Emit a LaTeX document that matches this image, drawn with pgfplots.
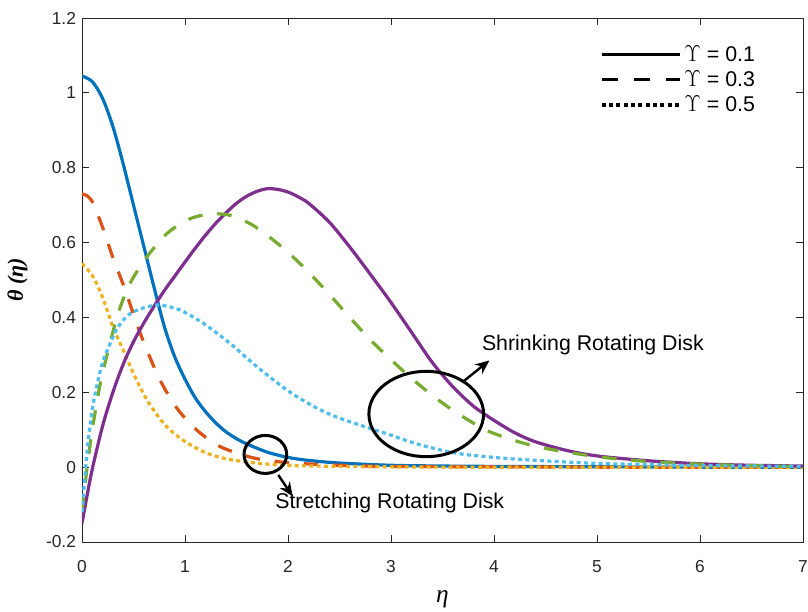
\documentclass[border=0pt]{standalone}
\usepackage{pgfplots}
\pgfplotsset{compat=1.18}
\usepackage{fontspec}
\setmainfont{Liberation Sans}
\newfontfamily\lserif{Liberation Serif}
\usetikzlibrary{arrows.meta,calc}
\definecolor{mblue}{rgb}{0,0.447,0.741}
\definecolor{morange}{rgb}{0.85,0.325,0.098}
\definecolor{myellow}{rgb}{0.929,0.694,0.125}
\definecolor{mpurple}{rgb}{0.494,0.184,0.556}
\definecolor{mgreen}{rgb}{0.466,0.674,0.188}
\definecolor{mlblue}{rgb}{0.301,0.745,0.933}
\begin{document}
\begin{tikzpicture}
\begin{axis}[
  width=540.75pt, height=393pt, scale only axis,
  xmin=0, xmax=7, ymin=-0.2, ymax=1.2,
  xtick={0,1,2,3,4,5,6,7},
  xticklabels={0,1,2,3,4,5,6,7},
  ytick={-0.2,0,0.2,0.4,0.6,0.8,1,1.2},
  yticklabels={-0.2,0,0.2,0.4,0.6,0.8,1,1.2},
  tick align=inside,
  major tick length=5.5pt,
  axis line style={line width=0.6pt, black!85},
  tick style={line width=0.6pt, black!85},
  ticklabel style={font=\fontsize{13}{15}\selectfont, text=black!85},
  xticklabel style={yshift=-10.5pt},
  yticklabel style={xshift=-1pt},
  xlabel={η},
  ylabel={θ (η)},
  xlabel style={font=\lserif\itshape\fontsize{19}{21}\selectfont, at={(axis description cs:0.5,-0.11)}, anchor=center},
  ylabel style={font=\lserif\bfseries\itshape\fontsize{16.5}{19}\selectfont, at={(axis description cs:-0.0895,0.5)}, anchor=center},
  legend cell align=left,
  legend style={draw=none, fill=none, inner sep=0pt, at={(axis description cs:0.718,0.953)}, anchor=north west,
    font=\fontsize{16}{18}\selectfont, row sep=1.6pt},
  legend image post style={xscale=3.45},
]
\addlegendimage{black, line width=2.5pt}
\addlegendentry{$\Upsilon$ = 0.1}
\addlegendimage{black, line width=2.5pt, dash pattern=on 12pt off 12pt}
\addlegendentry{$\Upsilon$ = 0.3}
\addlegendimage{black, line width=2.5pt, dash pattern=on 3pt off 2.5pt}
\addlegendentry{$\Upsilon$ = 0.5}
\addplot[forget plot, mblue, line width=2.4pt, smooth] coordinates {
(0,1.045) (0.1,1.03) (0.2,0.985) (0.3,0.91) (0.4,0.81) (0.5,0.70) (0.6,0.59) (0.7,0.48) (0.8,0.375) (0.9,0.295) (1.0,0.235) (1.1,0.185) (1.2,0.148) (1.3,0.118) (1.4,0.094) (1.5,0.076) (1.6,0.062) (1.8,0.040) (2.0,0.026) (2.2,0.018) (2.5,0.011) (3,0.005) (3.5,0.003) (4,0.002) (5,0.001) (6,0.0) (7,0.0)};
\addplot[forget plot, morange, line width=2.4pt, dash pattern=on 11pt off 11pt, smooth] coordinates {
(0,0.73) (0.05,0.725) (0.11,0.704) (0.21,0.633) (0.30,0.56) (0.42,0.473) (0.53,0.384) (0.63,0.313) (0.757,0.233) (0.92,0.158) (1.11,0.10) (1.34,0.055) (1.66,0.025) (2.0,0.012) (2.5,0.005) (3,0.002) (4,0.001) (5,0.0) (7,0.0)};
\addplot[forget plot, myellow, line width=2.4pt, dash pattern=on 3pt off 2.5pt, smooth] coordinates {
(0,0.544) (0.11,0.508) (0.21,0.446) (0.30,0.375) (0.40,0.313) (0.50,0.25) (0.63,0.18) (0.79,0.118) (0.95,0.078) (1.18,0.041) (1.44,0.02) (1.9,0.006) (2.5,0.002) (3.5,0.0) (5,0.0) (7,0.0)};
\addplot[forget plot, mpurple, line width=2.4pt, smooth] coordinates {
(0,-0.15) (0.05,-0.075) (0.1,-0.005) (0.2,0.11) (0.3,0.2) (0.4,0.275) (0.5,0.335) (0.6,0.385) (0.7,0.43) (0.8,0.472) (0.9,0.51) (1.0,0.548) (1.1,0.585) (1.2,0.62) (1.3,0.652) (1.4,0.68) (1.5,0.705) (1.6,0.724) (1.7,0.737) (1.8,0.744) (1.9,0.742) (2.0,0.735) (2.1,0.722) (2.2,0.705) (2.4,0.655) (2.6,0.588) (2.8,0.515) (3.0,0.44) (3.2,0.36) (3.4,0.28) (3.6,0.215) (3.8,0.163) (4.0,0.125) (4.2,0.092) (4.4,0.068) (4.7,0.045) (5.0,0.03) (5.5,0.017) (6,0.009) (6.5,0.005) (7,0.003)};
\addplot[forget plot, mgreen, line width=2.4pt, dash pattern=on 11pt off 11pt, smooth] coordinates {
(0,-0.12) (0.05,0.0) (0.1,0.1) (0.175,0.22) (0.255,0.313) (0.35,0.41) (0.45,0.482) (0.55,0.53) (0.63,0.562) (0.79,0.615) (0.9,0.64) (1.05,0.664) (1.2,0.675) (1.3,0.677) (1.45,0.672) (1.66,0.646) (1.92,0.593) (2.15,0.535) (2.4,0.462) (2.6,0.40) (2.8,0.34) (3.0,0.287) (3.2,0.237) (3.4,0.192) (3.6,0.152) (3.86,0.108) (4.0,0.09) (4.25,0.067) (4.5,0.05) (5.0,0.028) (5.5,0.015) (6.0,0.008) (6.5,0.004) (7,0.002)};
\addplot[forget plot, mlblue, line width=2.4pt, dash pattern=on 3pt off 2.5pt, smooth] coordinates {
(0,-0.12) (0.03,-0.02) (0.06,0.07) (0.1,0.155) (0.15,0.225) (0.2,0.28) (0.255,0.318) (0.34,0.37) (0.466,0.41) (0.63,0.428) (0.757,0.433) (0.95,0.42) (1.18,0.384) (1.44,0.33) (1.70,0.268) (1.99,0.206) (2.25,0.162) (2.5,0.131) (2.95,0.09) (3.29,0.059) (3.64,0.037) (4.0,0.026) (4.35,0.019) (5,0.01) (5.5,0.007) (6,0.004) (7,0.002)};
\coordinate (SW) at (rel axis cs:0,0);
\coordinate (NE) at (rel axis cs:1,1);
\coordinate (E1) at (axis cs:3.342,0.142);
\coordinate (A1s) at (axis cs:3.702,0.229);
\coordinate (A1e) at (axis cs:3.955,0.285);
\coordinate (T1) at (axis cs:3.881,0.327);
\coordinate (E2) at (axis cs:1.78,0.034);
\coordinate (A2s) at (axis cs:1.906,-0.021);
\coordinate (A2e) at (axis cs:2.045,-0.078);
\coordinate (T2) at (axis cs:1.874,-0.095);
\end{axis}
\draw[line width=2.25pt, black] (E1) ellipse (43pt and 32pt);
\draw[line width=1.8pt, black, -{Stealth[length=10.5pt, width=9pt]}] (A1s) -- (A1e);
\node[anchor=west, inner sep=0pt, font=\fontsize{16}{18}\selectfont] at (T1) {Shrinking Rotating Disk};
\draw[line width=2.25pt, black] (E2) ellipse (16pt and 14.25pt);
\draw[line width=1.8pt, black, -{Stealth[length=10.5pt, width=9pt]}] (A2s) -- (A2e);
\node[anchor=west, inner sep=0pt, font=\fontsize{16}{18}\selectfont] at (T2) {Stretching Rotating Disk};
\pgfresetboundingbox
\path[use as bounding box] ($(SW)+(-61.5pt,-51.75pt)$) rectangle ($(NE)+(3.75pt,13.5pt)$);
\end{tikzpicture}
\end{document}
